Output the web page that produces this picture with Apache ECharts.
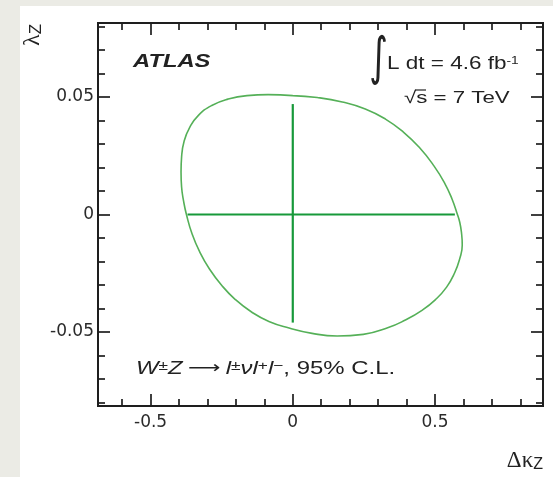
<!DOCTYPE html>
<html><head><meta charset="utf-8">
<script src="https://cdn.jsdelivr.net/npm/echarts@6/dist/echarts.min.js"></script>
<style>html,body{margin:0;padding:0;background:#ebebe5}#c{width:553px;height:477px}</style>
</head><body><div id="c"></div>
<script>
// 95% C.L. contour
const contourKappa = [0.000,-0.087,-0.161,-0.228,-0.285,-0.331,-0.362,-0.382,-0.391,-0.393,-0.391,-0.384,-0.374,-0.354,-0.327,-0.293,-0.251,-0.202,-0.145,-0.084,-0.013,0.068,0.156,0.248,0.336,0.396,0.453,0.502,0.541,0.569,0.587,0.596,0.593,0.587,0.579,0.560,0.534,0.497,0.447,0.389,0.326,0.255,0.174,0.086];
const contourLambda = [0.0506,0.0510,0.0506,0.0491,0.0464,0.0423,0.0372,0.0313,0.0245,0.0181,0.0117,0.0057,0.0000,-0.0083,-0.0160,-0.0232,-0.0300,-0.0362,-0.0415,-0.0455,-0.0483,-0.0506,-0.0517,-0.0510,-0.0481,-0.0449,-0.0409,-0.0362,-0.0309,-0.0249,-0.0189,-0.0130,-0.0074,-0.0032,0.0000,0.0066,0.0134,0.0206,0.0283,0.0351,0.0406,0.0449,0.0479,0.0498];
// 1D limits
const kappaLimits = [-0.37, 0.57];
const lambdaLimits = [-0.046, 0.047];
// axes
const xRange = [-0.685, 0.88];
const yRange = [-0.0815, 0.0815];
const xMajorTicks = [-0.5, 0, 0.5];
const xMinorTicks = [-0.6,-0.4,-0.3,-0.2,-0.1,0.1,0.2,0.3,0.4,0.6,0.7,0.8];
const yMajorTicks = [-0.05, 0, 0.05];
const yMinorTicks = [-0.08,-0.07,-0.06,-0.04,-0.03,-0.02,-0.01,0.01,0.02,0.03,0.04,0.06,0.07,0.08];

const FRAME = '#1e1e1e';
const SANS = '"Liberation Sans", Arial, sans-serif';
const SERIF = '"Liberation Serif", "Times New Roman", serif';

function mkAxis(dim, pos, vals, len, withLabels) {
  const r = dim === 'x' ? xRange : yRange;
  return {
    type: 'value', position: pos, min: r[0], max: r[1],
    axisLine: { show: false, onZero: false },
    splitLine: { show: false },
    axisTick: { show: true, inside: true, length: len, customValues: vals,
      lineStyle: { color: FRAME, width: 1.7 } },
    axisLabel: withLabels ? {
      show: true, customValues: vals, margin: dim === 'x' ? 8 : 4,
      fontFamily: '"DejaVu Sans", sans-serif', fontSize: 17, color: '#2a2a2a',
      formatter: v => String(v)
    } : { show: false }
  };
}

const chart = echarts.init(document.getElementById('c'), null, { renderer: 'canvas' });
const contour = contourKappa.map((k, i) => [k, contourLambda[i]]);
contour.push(contour[0]);

chart.setOption({
  backgroundColor: '#ebebe5',
  animation: false,
  grid: { left: 98, top: 23, right: 10, bottom: 71, show: true, borderColor: FRAME, borderWidth: 2,
          containLabel: false, outerBoundsMode: 'none' },
  xAxis: [
    mkAxis('x', 'bottom', xMajorTicks, 12, true),
    mkAxis('x', 'bottom', xMinorTicks, 7, false),
    mkAxis('x', 'top', xMajorTicks, 12, false),
    mkAxis('x', 'top', xMinorTicks, 7, false)
  ],
  yAxis: [
    mkAxis('y', 'left', yMajorTicks, 12, true),
    mkAxis('y', 'left', yMinorTicks, 7, false),
    mkAxis('y', 'right', yMajorTicks, 12, false),
    mkAxis('y', 'right', yMinorTicks, 7, false)
  ],
  series: [
    { type: 'line', name: '95% C.L.', data: contour, smooth: 0.5, showSymbol: false,
      lineStyle: { color: '#55b058', width: 1.6 }, z: 3 },
    { type: 'line', name: 'kappa limits', data: kappaLimits.map(k => [k, 0]), showSymbol: false,
      lineStyle: { color: '#17993a', width: 2.2 }, z: 4 },
    { type: 'line', name: 'lambda limits', data: lambdaLimits.map(l => [0, l]), showSymbol: false,
      lineStyle: { color: '#17993a', width: 2.2 }, z: 4 }
  ],
  graphic: [
    { type: 'rect', shape: { x: 20, y: 6, width: 533, height: 471 }, style: { fill: '#ffffff' }, z: -10, silent: true },
    { type: 'text', x: 133, y: 62, scaleX: 1.25,
      style: { text: 'ATLAS', fontFamily: SANS, fontSize: 19, fontWeight: 'bold', fontStyle: 'italic',
               fill: '#222', verticalAlign: 'middle' } },
    { type: 'text', x: 369, y: 60, scaleX: 0.9, scaleY: 1.3,
      style: { text: '\u222B', fontFamily: '"DejaVu Sans", sans-serif', fontSize: 40, fill: '#222', verticalAlign: 'middle' } },
    { type: 'text', x: 387, y: 64, scaleX: 1.25,
      style: { text: '{a|L dt = 4.6 fb}{s|-1}', fill: '#222', verticalAlign: 'middle',
        rich: { a: { fontFamily: SANS, fontSize: 18, fill: '#222' },
                s: { fontFamily: SANS, fontSize: 11, fill: '#222', verticalAlign: 'top' } } } },
    { type: 'text', x: 404, y: 98, scaleX: 1.31,
      style: { text: '\u221As = 7 TeV', fontFamily: SANS, fontSize: 17, fill: '#222', verticalAlign: 'middle' } },
    { type: 'line', shape: { x1: 415, y1: 90, x2: 426, y2: 90 }, style: { stroke: '#222', lineWidth: 1.2 } },
    { type: 'text', x: 136, y: 369, scaleX: 1.33,
      style: { text: '{i|W}{s|\u00B1}{i|Z}{a|\u27F6}{i|l}{s|\u00B1}{i|\u03BDl}{s|+}{i|l}{s|\u2212}{n|, 95% C.L.}',
        fill: '#222', verticalAlign: 'middle',
        rich: { i: { fontFamily: SANS, fontSize: 18, fontStyle: 'italic', fill: '#222' },
                n: { fontFamily: SANS, fontSize: 18, fill: '#222' },
                a: { fontFamily: '"DejaVu Sans", sans-serif', fontSize: 17, fill: '#222', padding: [0, 4, 0, 4] },
                s: { fontFamily: SANS, fontSize: 13, fill: '#222', verticalAlign: 'top' } } } },
    { type: 'text', x: 33, y: 46, rotation: Math.PI / 2,
      style: { text: '{g|\u03BB}{z|Z}', fill: '#222', verticalAlign: 'middle',
        rich: { g: { fontFamily: SERIF, fontSize: 24, fill: '#222' },
                z: { fontFamily: SANS, fontSize: 17, fill: '#222', verticalAlign: 'bottom' } } } },
    { type: 'text', x: 543, y: 461,
      style: { text: '{g|\u0394\u03BA}{z|Z}', fill: '#222', align: 'right', verticalAlign: 'middle',
        rich: { g: { fontFamily: SERIF, fontSize: 23, fill: '#222' },
                z: { fontFamily: SANS, fontSize: 16, fill: '#222', verticalAlign: 'bottom' } } } }
  ]
});
</script>
</body></html>
